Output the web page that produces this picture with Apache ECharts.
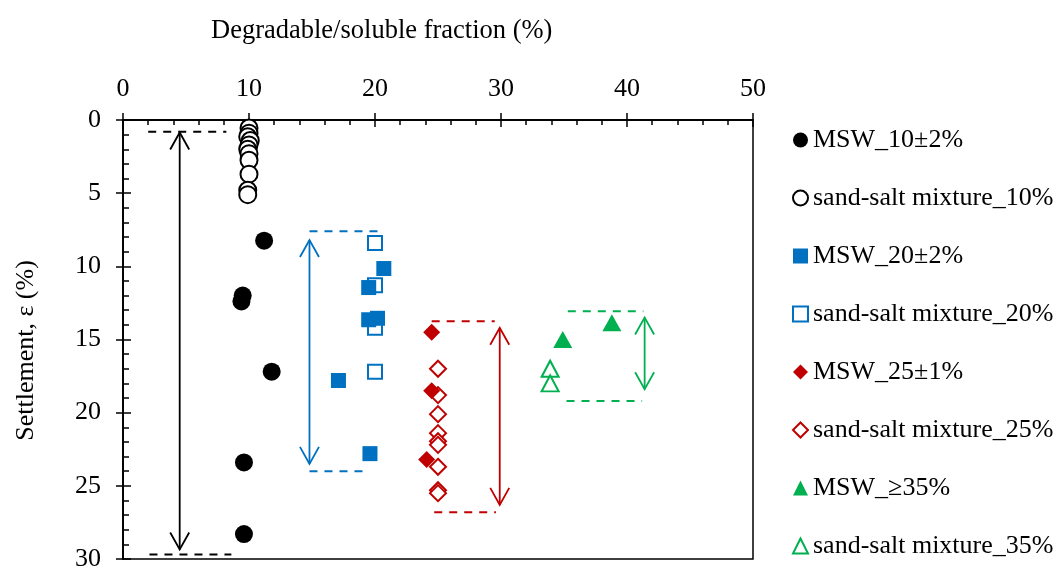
<!DOCTYPE html>
<html>
<head>
<meta charset="utf-8">
<script src="https://cdn.jsdelivr.net/npm/echarts@6/dist/echarts.min.js"></script>
<style>
html,body{margin:0;padding:0;background:#fff;}
#chart{width:1062px;height:572px;}
</style>
</head>
<body>
<div id="chart"></div>
<script>
// ---- data (x: degradable/soluble fraction %, y: settlement %) ----
const xTicks = [0, 10, 20, 30, 40, 50];
const yTicks = [0, 5, 10, 15, 20, 25, 30];
const seriesNames = ['MSW_10±2%', 'sand-salt mixture_10%', 'MSW_20±2%', 'sand-salt mixture_20%',
                     'MSW_25±1%', 'sand-salt mixture_25%', 'MSW_≥35%', 'sand-salt mixture_35%'];
const msw10 = [[11.2, 8.25], [9.5, 12.0], [9.4, 12.4], [11.8, 17.2], [9.6, 23.4], [9.6, 28.3]];
const sand10 = [[10.0, 0.55], [10.0, 0.9], [9.9, 1.15], [10.1, 1.4], [10.0, 1.7], [9.9, 2.0], [10.0, 2.3], [10.0, 2.75], [10.0, 3.7], [9.9, 4.8], [9.9, 5.1]];
const msw20 = [[20.7, 10.15], [19.5, 11.45], [19.5, 13.65], [20.2, 13.55], [17.1, 17.8], [19.6, 22.8]];
const sand20 = [[20.0, 8.4], [20.0, 11.3], [20.0, 14.2], [20.0, 17.2]];
const msw25 = [[24.5, 14.5], [24.5, 18.5], [24.1, 23.2]];
const sand25 = [[25.0, 17.0], [25.0, 18.8], [25.0, 20.1], [25.0, 21.4], [25.0, 21.95], [25.0, 22.2], [25.0, 23.7], [25.0, 25.3], [25.0, 25.5]];
const msw35 = [[34.9, 15.0], [38.8, 13.85]];
const sand35 = [[33.9, 17.0], [33.9, 18.0]];
// range annotations per group: double arrow [x, yTop, yBottom], limit lines [x1, x2, y]
const rangeArrows = [[4.5, 0.85, 29.35], [14.8, 8.2, 23.5], [29.9, 14.2, 26.3], [41.4, 13.5, 18.4]];
const rangeLimits = [[2.0, 8.2, 0.8], [2.1, 8.6, 29.7],
                     [14.8, 20.5, 7.6], [14.8, 19.5, 24.0],
                     [24.5, 29.5, 13.75], [24.7, 29.6, 26.8],
                     [35.3, 41.3, 13.07], [35.2, 41.2, 19.2]];

// ---- styles ----
const FONT = "'Liberation Serif', 'Times New Roman', serif";
const C_BLACK = '#000000', C_BLUE = '#0070C0', C_RED = '#C00000', C_GREEN = '#00B050';
const groupColors = [C_BLACK, C_BLUE, C_RED, C_GREEN];

function filled(name, data, symbol, size, color) {
  return {
    name, type: 'scatter', data, symbol, symbolSize: size,
    xAxisIndex: 0, yAxisIndex: 0,
    itemStyle: { color: color, opacity: 1 },
    emphasis: { disabled: true }, z: 5
  };
}
function hollow(name, data, symbol, size, color) {
  return {
    name, type: 'scatter', data, symbol, symbolSize: size,
    xAxisIndex: 0, yAxisIndex: 0,
    itemStyle: { color: '#ffffff', borderColor: color, borderWidth: 2, opacity: 1 },
    emphasis: { disabled: true }, z: 4
  };
}

const chart = echarts.init(document.getElementById('chart'), null, { renderer: 'canvas' });

const commonAxisLine = { show: true, lineStyle: { color: '#000', width: 1.5 } };

const option = {
  animation: false,
  backgroundColor: '#fff',
  textStyle: { fontFamily: FONT, color: '#000' },
  title: {
    text: 'Degradable/soluble fraction (%)',
    left: 206, top: 13,
    textStyle: { fontFamily: FONT, fontSize: 26.5, fontWeight: 'normal', color: '#000' }
  },
  grid: {
    left: 123, top: 120, right: 309, bottom: 11,
    show: true, borderColor: '#000', borderWidth: 1.5, backgroundColor: 'transparent',
    containLabel: false
  },
  legend: {
    orient: 'vertical', left: 787, top: 122,
    itemWidth: 15, itemHeight: 15, itemGap: 32,
    data: seriesNames,
    textStyle: { fontFamily: FONT, fontSize: 26, color: '#000' },
    selectedMode: false
  },
  xAxis: [
    {
      type: 'value', position: 'top', min: 0, max: 50, interval: 10,
      axisLine: commonAxisLine,
      axisTick: { show: true, inside: false, length: 7, lineStyle: { color: '#000', width: 1.5 } },
      axisLabel: { show: true, margin: 18, fontFamily: FONT, fontSize: 26, color: '#000',
                   customValues: xTicks },
      splitLine: { show: false }
    },
    {
      type: 'value', position: 'top', min: 0, max: 50, interval: 10,
      axisLine: commonAxisLine,
      axisTick: { show: true, inside: true, length: 7, lineStyle: { color: '#000', width: 1.5 } },
      minorTick: { show: true, splitNumber: 5, length: 5, lineStyle: { color: '#000', width: 1.5 } },
      axisLabel: { show: false },
      splitLine: { show: false }
    }
  ],
  yAxis: [
    {
      type: 'value', inverse: true, position: 'left', min: 0, max: 30, interval: 5,
      name: 'Settlement, ε (%)', nameLocation: 'middle', nameGap: 84,
      nameTextStyle: { fontFamily: FONT, fontSize: 26, color: '#000', padding: [0, 22, 0, 0] },
      axisLine: commonAxisLine,
      axisTick: { show: true, inside: false, length: 7, lineStyle: { color: '#000', width: 1.5 } },
      axisLabel: { show: true, margin: 22, fontFamily: FONT, fontSize: 26, color: '#000',
                   customValues: yTicks },
      splitLine: { show: false }
    },
    {
      type: 'value', inverse: true, position: 'left', min: 0, max: 30, interval: 5,
      axisLine: commonAxisLine,
      axisTick: { show: true, inside: true, length: 8, lineStyle: { color: '#000', width: 1.5 } },
      minorTick: { show: true, splitNumber: 5, length: 6, lineStyle: { color: '#000', width: 1.5 } },
      axisLabel: { show: false },
      splitLine: { show: false }
    }
  ],
  series: [
    filled(seriesNames[0], msw10, 'circle', 18, C_BLACK),
    hollow(seriesNames[1], sand10, 'circle', 17, C_BLACK),
    filled(seriesNames[2], msw20, 'rect', 15, C_BLUE),
    hollow(seriesNames[3], sand20, 'rect', 14, C_BLUE),
    filled(seriesNames[4], msw25, 'diamond', 17, C_RED),
    hollow(seriesNames[5], sand25, 'diamond', 16, C_RED),
    filled(seriesNames[6], msw35, 'triangle', [19, 17], C_GREEN),
    hollow(seriesNames[7], sand35, 'triangle', [17, 16], C_GREEN),
    {
      name: 'rangeArrows', type: 'custom', xAxisIndex: 0, yAxisIndex: 0,
      data: rangeArrows, silent: true, z: 3,
      encode: { x: 0, y: [1, 2] },
      renderItem: function (params, api) {
        const d = rangeArrows[params.dataIndex];
        const c = groupColors[params.dataIndex];
        const p1 = api.coord([d[0], d[1]]);
        const p2 = api.coord([d[0], d[2]]);
        const h = 17, w = 9.5;
        const st = { stroke: c, fill: null, lineWidth: 1.8 };
        return {
          type: 'group',
          children: [
            { type: 'line', shape: { x1: p1[0], y1: p1[1], x2: p2[0], y2: p2[1] }, style: st },
            { type: 'polyline', shape: { points: [[p1[0] - w, p1[1] + h], [p1[0], p1[1]], [p1[0] + w, p1[1] + h]] }, style: st },
            { type: 'polyline', shape: { points: [[p2[0] - w, p2[1] - h], [p2[0], p2[1]], [p2[0] + w, p2[1] - h]] }, style: st }
          ]
        };
      }
    },
    {
      name: 'rangeLimits', type: 'custom', xAxisIndex: 0, yAxisIndex: 0,
      data: rangeLimits, silent: true, z: 3,
      encode: { x: [0, 1], y: 2 },
      renderItem: function (params, api) {
        const d = rangeLimits[params.dataIndex];
        const c = groupColors[Math.floor(params.dataIndex / 2)];
        const p1 = api.coord([d[0], d[2]]);
        const p2 = api.coord([d[1], d[2]]);
        return {
          type: 'line',
          shape: { x1: p1[0], y1: p1[1], x2: p2[0], y2: p2[1] },
          style: { stroke: c, lineWidth: 2, lineDash: [8, 7] }
        };
      }
    }
  ]
};
chart.setOption(option);
</script>
</body>
</html>
